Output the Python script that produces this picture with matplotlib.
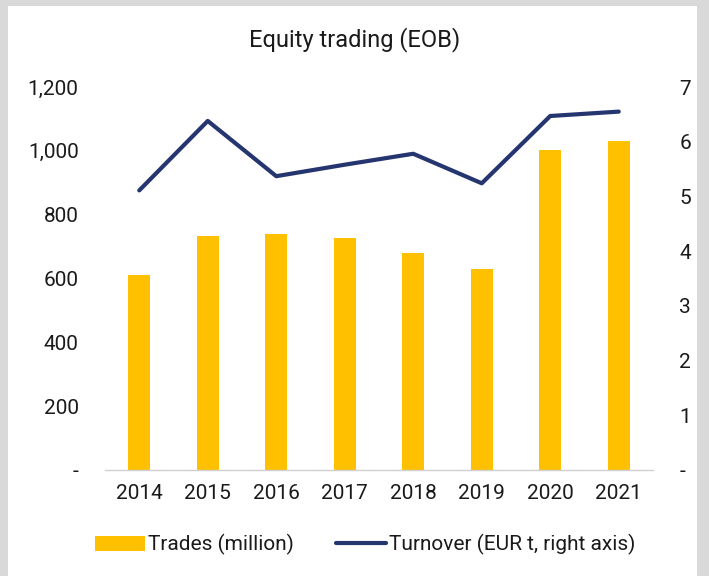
"""Equity trading (EOB): trades as bars, turnover as line on a right axis."""

import matplotlib.pyplot as plt
from matplotlib.patches import Rectangle
from matplotlib.ticker import FuncFormatter, MultipleLocator

plt.rcParams["font.family"] = ["Roboto", "DejaVu Sans"]

years = ["2014", "2015", "2016", "2017", "2018", "2019", "2020", "2021"]
trades = [612, 732, 740, 726, 680, 630, 1003, 1031]  # million
turnover = [5.11, 6.38, 5.37, 5.58, 5.78, 5.24, 6.47, 6.55]  # EUR t

BAR_COLOR = "#FFC000"
LINE_COLOR = "#253570"
TEXT_COLOR = "#1a1a1a"


def dash_zero(fmt):
    return FuncFormatter(lambda v, _: "-" if abs(v) < 1e-9 else fmt.format(v))


fig = plt.figure(figsize=(7.09, 5.76), dpi=100)
fig.patch.set_facecolor("#d9d9d9")
fig.patches.append(Rectangle((8 / 709, 0), (697 - 8) / 709, 1 - 6 / 576,
                             transform=fig.transFigure, facecolor="white",
                             edgecolor="none", zorder=-10))

ax = fig.add_axes([105 / 709, 1 - 470 / 576, 548 / 709, 383 / 576])
ax.set_facecolor("none")
x = range(len(years))
bars = ax.bar(x, trades, width=0.32, color=BAR_COLOR, label="Trades (million)")
ax.set_xlim(-0.5, len(years) - 0.5)
ax.set_ylim(0, 1200)
ax.yaxis.set_major_locator(MultipleLocator(200))
ax.yaxis.set_major_formatter(dash_zero("{:,.0f}"))
ax.set_xticks(list(x))
ax.set_xticklabels(years)

ax2 = ax.twinx()
line, = ax2.plot(x, turnover, color=LINE_COLOR, lw=3.0,
                 solid_capstyle="round", label="Turnover (EUR t, right axis)")
ax2.set_ylim(0, 7)
ax2.yaxis.set_major_locator(MultipleLocator(1))
ax2.yaxis.set_major_formatter(dash_zero("{:.0f}"))

for a in (ax, ax2):
    for side in ("top", "left", "right", "bottom"):
        a.spines[side].set_visible(False)
ax.spines["bottom"].set_visible(True)
ax.spines["bottom"].set_color("#d0d0d0")
ax.spines["bottom"].set_linewidth(1.0)

ax.tick_params(axis="y", length=0, pad=19, labelsize=15, labelcolor=TEXT_COLOR)
ax.tick_params(axis="x", length=0, pad=10, labelsize=15, labelcolor=TEXT_COLOR)
ax2.tick_params(axis="y", length=0, pad=19, labelsize=15, labelcolor=TEXT_COLOR)

fig.text(0.5, 1 - 40 / 576, "Equity trading (EOB)", ha="center", va="center",
         fontsize=17, color=TEXT_COLOR)

fig.legend(handles=[bars, line], loc="center", bbox_to_anchor=(0.515, 0.054),
           ncol=2, frameon=False, fontsize=15, handlelength=2.4,
           handletextpad=0.15, columnspacing=2.0, labelcolor=TEXT_COLOR)

fig.savefig("out.png", dpi=100)
